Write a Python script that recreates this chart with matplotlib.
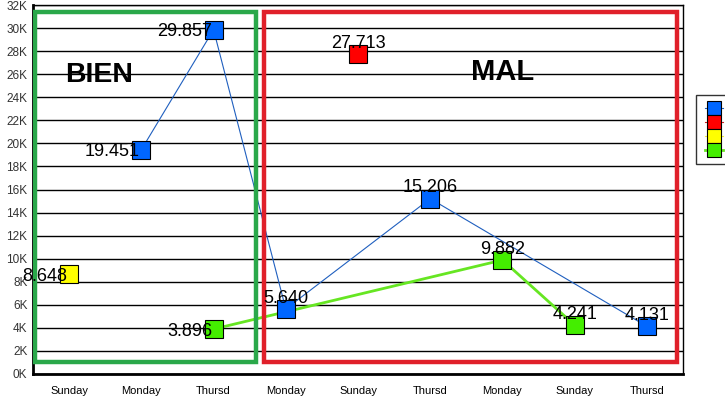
import matplotlib
matplotlib.use("Agg")
import matplotlib.pyplot as plt
import numpy as np
from matplotlib.lines import Line2D
from matplotlib.patches import Rectangle

plt.rcParams["font.family"] = ["Liberation Sans", "DejaVu Sans"]

categories = ["Sunday", "Monday", "Thursd", "Monday", "Sunday",
              "Thursd", "Monday", "Sunday", "Thursd"]
nan = np.nan
serie_blue = [nan, 19451, 29857, 5640, nan, 15206, nan, nan, 4131]
serie_red = [nan, nan, nan, nan, 27713, nan, nan, nan, nan]
serie_yellow = [8648, nan, nan, nan, nan, nan, nan, nan, nan]
serie_green = [nan, nan, 3896, nan, nan, nan, 9882, 4241, nan]
y_ticks = list(range(0, 32001, 2000))

series = [
    (serie_blue, "#0066ff", "#1f5fbf", 0.8),
    (serie_red, "#ff0000", "#cc2222", 0.8),
    (serie_yellow, "#ffff00", "#eeee44", 0.8),
    (serie_green, "#44ee00", "#66e622", 2.0),
]

fig = plt.figure(figsize=(7.25, 3.98), dpi=100)
W, H = 725, 398
ax = fig.add_axes([33 / W, (H - 374) / H, (683 - 33) / W, (374 - 5) / H])

x = np.arange(len(categories))
for vals, face, lcolor, lw in series:
    v = np.array(vals, dtype=float)
    ok = ~np.isnan(v)
    ax.plot(x[ok], v[ok], color=lcolor, lw=lw, zorder=3)
    ax.plot(x[ok], v[ok], ls="none", marker="s", ms=12.5, mfc=face,
            mec="black", mew=0.8, zorder=5)
    for xi, yi in zip(x[ok], v[ok]):
        txt = f"{yi / 1000:.3f}"
        if xi < 3:
            ax.annotate(txt, (xi, yi), xytext=(-1, -1.5), textcoords="offset points",
                        ha="right", va="center", fontsize=13, zorder=6)
        else:
            ax.annotate(txt, (xi, yi), xytext=(0, 4.5), textcoords="offset points",
                        ha="center", va="baseline", fontsize=13, zorder=6)

# group frames
ax.add_patch(Rectangle((-0.47, 1050), 3.06, 30350, fill=False,
                       ec="#2aa84a", lw=3.2, zorder=4))
ax.add_patch(Rectangle((2.70, 1050), 5.72, 30350, fill=False,
                       ec="#e0202a", lw=3.2, zorder=4))
ax.text(0.42, 25950, "BIEN", fontsize=20.5, fontweight="bold",
        ha="center", va="center", zorder=6)
ax.text(6.0, 26200, "MAL", fontsize=21, fontweight="bold",
        ha="center", va="center", zorder=6)

ax.set_xlim(-0.5, 8.5)
ax.set_ylim(0, 32000)
ax.set_xticks(x)
ax.set_xticklabels(categories, fontsize=8)
ax.set_yticks(y_ticks)
ax.set_yticklabels([f"{t // 1000}K" for t in y_ticks], fontsize=8.5, color="#333333")
ax.tick_params(axis="both", length=0)
ax.tick_params(axis="x", pad=9)
ax.tick_params(axis="y", pad=4)
ax.grid(axis="y", color="black", lw=1)
ax.set_axisbelow(True)
for side in ("left", "bottom"):
    ax.spines[side].set_linewidth(2)
for side in ("top", "right"):
    ax.spines[side].set_linewidth(1)

# legend: series names fall outside the picture, so only the keys show
handles = [Line2D([], [], color=lc, lw=lw, marker="s", ms=10, mfc=fc, mec="black", mew=0.8)
           for _, fc, lc, lw in series]
fig.legend(handles, ["", "", "", ""],
           loc="upper left", bbox_to_anchor=(696 / W, 1 - 95 / H), borderaxespad=0,
           frameon=True, fancybox=False, edgecolor="black", fontsize=8,
           handlelength=1.6, labelspacing=0.35, borderpad=0.8, handletextpad=2.5)

fig.savefig("out.png", dpi=100)
